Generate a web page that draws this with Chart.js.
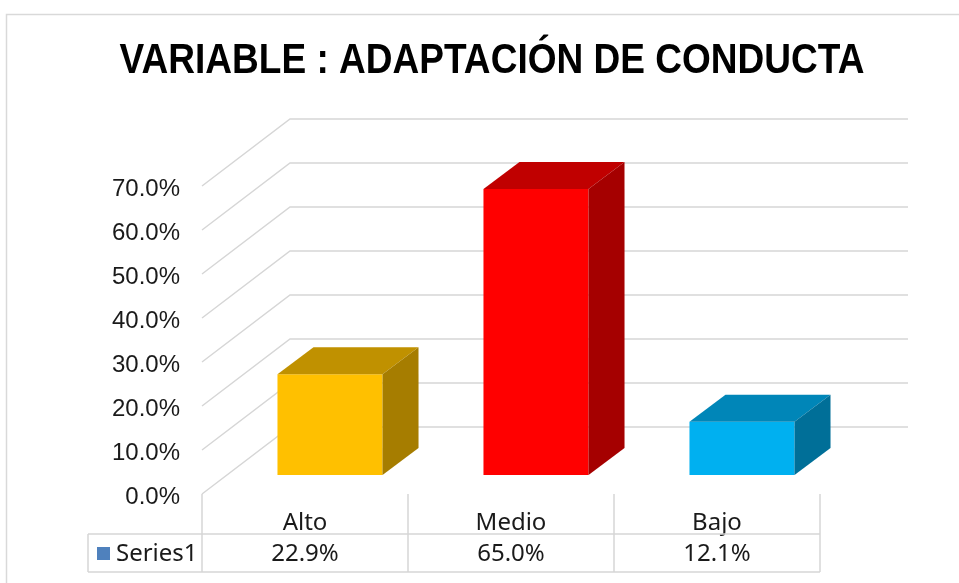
<!DOCTYPE html>
<html>
<head>
<meta charset="utf-8">
<script src="https://cdn.jsdelivr.net/npm/chart.js@4"></script>
<style>
  html, body { margin: 0; padding: 0; background: #fff; }
  #wrap { width: 959px; height: 583px; position: relative; }
</style>
</head>
<body>
<div id="wrap"><canvas id="chart"></canvas></div>
<script>
const chartTitle = 'VARIABLE : ADAPTACIÓN DE CONDUCTA';
const categories = ['Alto', 'Medio', 'Bajo'];
const seriesName = 'Series1';
const values = [22.9, 65.0, 12.1];
const yTickValues = [0, 10, 20, 30, 40, 50, 60, 70];
const frontColors = ['#FFC000', '#FF0000', '#00B0F0'];
const topColors = ['#C09100', '#C00000', '#0086B8'];
const sideColors = ['#A67D00', '#A50000', '#006F98'];

// 3D look: wall depth, bar position inside the depth, bar depth
const WALL_DX = 88, WALL_DY = -67;
const BAR_DX = 25, BAR_DY = -19;
const DEPTH_DX = 36, DEPTH_DY = -27;
const GRID = '#d6d6d6';
const TEXT = '#1a1a1a';
const TABLE_FONT = '24px "Noto Sans", sans-serif';

const fake3d = {
  id: 'fake3d',
  beforeDatasetsDraw(chart) {
    const { ctx, chartArea: a, scales: { y } } = chart;
    ctx.save();
    ctx.strokeStyle = GRID;
    ctx.lineWidth = 1.5;
    yTickValues.forEach(v => {
      const py = y.getPixelForValue(v);
      ctx.beginPath();
      ctx.moveTo(a.left, py);
      ctx.lineTo(a.left + WALL_DX, py + WALL_DY);
      ctx.lineTo(a.right + WALL_DX, py + WALL_DY);
      ctx.stroke();
    });
    ctx.restore();
    ctx.save();
    ctx.translate(BAR_DX, BAR_DY);
  },
  afterDatasetsDraw(chart) {
    const { ctx } = chart;
    ctx.restore();
    const meta = chart.getDatasetMeta(0);
    meta.data.forEach((bar, i) => {
      const l = bar.x - bar.width / 2 + BAR_DX;
      const r = bar.x + bar.width / 2 + BAR_DX;
      const t = bar.y + BAR_DY;
      const b = bar.base + BAR_DY;
      ctx.fillStyle = topColors[i];
      ctx.beginPath();
      ctx.moveTo(l, t);
      ctx.lineTo(l + DEPTH_DX, t + DEPTH_DY);
      ctx.lineTo(r + DEPTH_DX, t + DEPTH_DY);
      ctx.lineTo(r, t);
      ctx.closePath();
      ctx.fill();
      ctx.fillStyle = sideColors[i];
      ctx.beginPath();
      ctx.moveTo(r, t);
      ctx.lineTo(r + DEPTH_DX, t + DEPTH_DY);
      ctx.lineTo(r + DEPTH_DX, b + DEPTH_DY);
      ctx.lineTo(r, b);
      ctx.closePath();
      ctx.fill();
    });
  },
  afterDraw(chart) {
    const { ctx, chartArea: a, scales: { x } } = chart;
    ctx.save();

    // outer frame
    ctx.strokeStyle = '#d9d9d9';
    ctx.lineWidth = 1.5;
    ctx.strokeRect(6.5, 14.5, 1000, 1000);

    // title, squeezed horizontally like the original
    ctx.fillStyle = '#000';
    ctx.font = 'bold 42px "Liberation Sans", Arial, sans-serif';
    const w = ctx.measureText(chartTitle).width;
    ctx.save();
    ctx.translate(492, 73);
    ctx.scale(745 / w, 1);
    ctx.textAlign = 'center';
    ctx.textBaseline = 'alphabetic';
    ctx.fillText(chartTitle, 0, 0);
    ctx.restore();

    // data table
    const rowTop = 534, rowBottom = 572, tableLeft = 88;
    const colW = (a.right - a.left) / categories.length;
    ctx.strokeStyle = GRID;
    ctx.lineWidth = 1.5;
    ctx.beginPath();
    ctx.moveTo(tableLeft, rowTop); ctx.lineTo(a.right, rowTop);
    ctx.moveTo(tableLeft, rowBottom); ctx.lineTo(a.right, rowBottom);
    ctx.moveTo(tableLeft, rowTop); ctx.lineTo(tableLeft, rowBottom);
    for (let i = 0; i <= categories.length; i++) {
      const px = a.left + i * colW;
      ctx.moveTo(px, a.bottom); ctx.lineTo(px, rowBottom);
    }
    ctx.stroke();

    const midY = (rowTop + rowBottom) / 2 + 1;
    ctx.fillStyle = '#4F81BD';
    ctx.fillRect(97, midY - 7, 13, 13);
    ctx.fillStyle = TEXT;
    ctx.font = TABLE_FONT;
    ctx.textBaseline = 'middle';
    ctx.textAlign = 'left';
    ctx.fillText(seriesName, 116, midY);
    ctx.textAlign = 'center';
    values.forEach((v, i) => {
      ctx.fillText(v.toFixed(1) + '%', x.getPixelForValue(i), midY);
    });
    ctx.restore();
  }
};

new Chart(document.getElementById('chart'), {
  type: 'bar',
  data: {
    labels: categories,
    datasets: [{
      label: seriesName,
      data: values,
      backgroundColor: frontColors,
      borderWidth: 0,
      categoryPercentage: 1,
      barPercentage: 0.51,
      clip: false
    }]
  },
  options: {
    responsive: true,
    maintainAspectRatio: false,
    animation: false,
    layout: { padding: { left: 0, right: 139, top: 186, bottom: 0 } },
    plugins: {
      legend: { display: false },
      title: { display: false },
      tooltip: { enabled: false }
    },
    scales: {
      x: {
        grid: { display: false, drawTicks: false },
        border: { display: false },
        ticks: { color: TEXT, font: { family: '"Noto Sans", sans-serif', size: 24 }, padding: 15 },
        afterFit(s) { s.height = 89; }
      },
      y: {
        min: 0,
        max: 70,
        grid: { display: false, drawTicks: false },
        border: { display: false },
        ticks: {
          stepSize: 10,
          color: TEXT,
          padding: 22,
          labelOffset: 3,
          font: { family: '"Liberation Sans", Arial, sans-serif', size: 24 },
          callback: v => v.toFixed(1) + '%'
        },
        afterFit(s) { s.width = 202; }
      }
    }
  },
  plugins: [fake3d]
});
</script>
</body>
</html>
